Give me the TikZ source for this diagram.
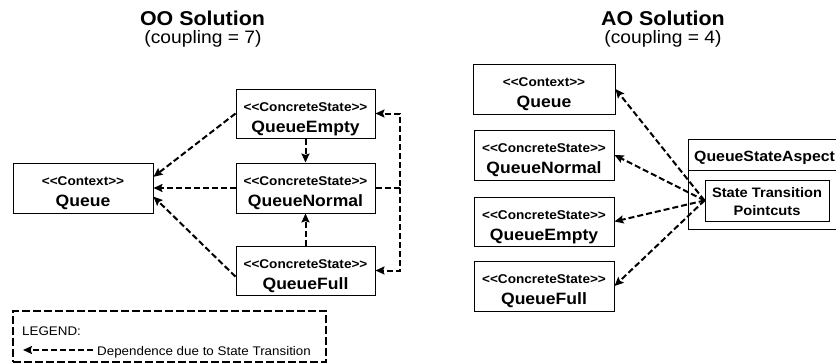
\documentclass[tikz,border=0pt]{standalone}
\usepackage{fontspec}
\setmainfont{Liberation Sans}[FakeStretch=1.07]
\usetikzlibrary{arrows.meta}
\newcommand{\stereo}[1]{{\fontsize{12.7}{21}\selectfont <\kern0pt<#1>\kern0pt>}}
\newcommand{\clsname}[1]{{\fontsize{16.4}{21}\selectfont #1}}
\tikzset{
  umlbox/.style={draw, line width=1pt, minimum width=139pt, minimum height=49pt, inner sep=0pt,
    align=center, text height=37pt, text depth=0pt, font=\bfseries\fontsize{16.4}{21}\selectfont},
  dep/.style={line width=2pt, dash pattern=on 6pt off 3pt, -{Stealth[length=9pt,width=8pt,inset=1.5pt]}},
  legendbox/.style={draw, line width=2pt, dash pattern=on 8pt off 3pt},
  soltitle/.style={font=\bfseries\fontsize{20}{24}\selectfont, anchor=base, inner sep=0pt},
  solsub/.style={font=\fontsize{18}{22}\selectfont, anchor=base, inner sep=0pt},
  legtext/.style={font=\fontsize{12.5}{15}\selectfont, anchor=base west, inner sep=0pt}
}

\begin{document}
\begin{tikzpicture}[x=1pt,y=-1pt]
\useasboundingbox (0,0) rectangle (836,364);
\clip (0,0) rectangle (836,364);

\node[soltitle] (ooTitle) at (202.5,25) {OO Solution};
\node[solsub] (ooCoupling) at (203,43) {(coupling = 7)};
\node[soltitle] (aoTitle) at (663,25) {AO Solution};
\node[solsub] (aoCoupling) at (663,43) {(coupling = 4)};

\node[umlbox, minimum width=140pt, minimum height=50pt] (ooQueue) at (83,188) {\stereo{Context}\\\clsname{Queue}};
\node[umlbox] (ooEmpty) at (305.5,113.5) {\stereo{ConcreteState}\\\clsname{QueueEmpty}};
\node[umlbox, minimum height=50pt] (ooNormal) at (305.5,188) {\stereo{ConcreteState}\\\clsname{QueueNormal}};
\node[umlbox] (ooFull) at (305.5,270.5) {\stereo{ConcreteState}\\\clsname{QueueFull}};

\draw[dep] (ooEmpty.west) -- (ooQueue.9);
\draw[dep] (ooNormal.west) -- (ooQueue.east);
\draw[dep] (ooFull.185) -- (ooQueue.-7);
\draw[dep] (ooEmpty.south) -- (ooNormal.north);
\draw[dep] (ooFull.north) -- (ooNormal.south);
\coordinate (ooRail) at (400,188);
\draw[dep] (ooNormal.east) -- (ooRail) |- (ooEmpty.east);
\draw[dep] (ooRail) |- (ooFull.east);

\node[legendbox, minimum width=313pt, minimum height=51pt] (legend) at (169.5,336.5) {};
\node[legtext] (legTitle) at (22,335) {LEGEND:};
\coordinate (legTail) at (93,350);
\coordinate (legHead) at (23,350);
\draw[dep] (legTail) -- (legHead);
\node[legtext] (legDesc) at (97,355) {Dependence due to State Transition};

\node[umlbox, minimum width=142pt, minimum height=50pt] (aoQueue) at (544,89) {\stereo{Context}\\\clsname{Queue}};
\node[umlbox, minimum width=140pt, minimum height=50pt] (aoNormal) at (544,155) {\stereo{ConcreteState}\\\clsname{QueueNormal}};
\node[umlbox, minimum width=140pt] (aoEmpty) at (544,221.5) {\stereo{ConcreteState}\\\clsname{QueueEmpty}};
\node[umlbox, minimum width=140pt, minimum height=50pt] (aoFull) at (544,286) {\stereo{ConcreteState}\\\clsname{QueueFull}};

\node[draw, line width=1pt, anchor=north west, minimum width=220pt, minimum height=90pt] (aspect) at (688,139) {};
\draw[line width=1pt] ([yshift=-31pt]aspect.north west) -- ([yshift=-31pt]aspect.north east);
\node[anchor=base west, inner sep=0pt, font=\bfseries\fontsize{14.8}{17}\selectfont] (aspectName) at (694,161) {QueueStateAspect};
\node[umlbox, minimum width=124pt, minimum height=41pt, text height=29pt,
  font=\bfseries\fontsize{13.7}{18}\selectfont] (pointcuts) at (767,200.5) {State Transition\\Pointcuts};

\foreach \cls in {aoQueue,aoNormal,aoEmpty,aoFull}
  \draw[dep] (pointcuts.west) -- (\cls.east);
\end{tikzpicture}
\end{document}
